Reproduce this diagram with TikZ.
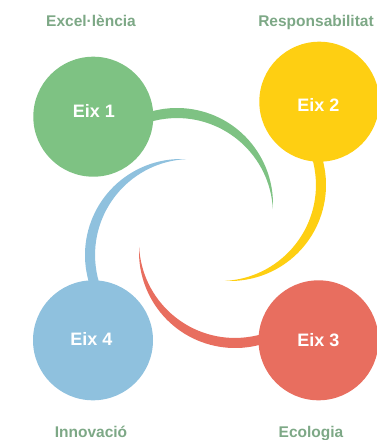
\documentclass[tikz,border=0pt]{standalone}
\usepackage{fontspec}
\setmainfont{Liberation Sans}
\usetikzlibrary{positioning}
\definecolor{eixgreen}{HTML}{7EC283}
\definecolor{eixyellow}{HTML}{FECF12}
\definecolor{eixred}{HTML}{E86E5F}
\definecolor{eixblue}{HTML}{8FC1DE}
\definecolor{labelgreen}{HTML}{7DA886}
\tikzset{
  eix/.style={circle, inner sep=0pt, minimum size=120pt},
  eixtext/.style={text=white, inner sep=0pt, anchor=base, font=\bfseries\fontsize{18}{20}\selectfont},
  eixlabel/.style={text=labelgreen, inner sep=0pt, anchor=base, font=\bfseries\fontsize{15.5}{18}\selectfont}
}

\begin{document}
\begin{tikzpicture}[x=1pt, y=-1pt]
        \useasboundingbox (0, 0) rectangle (376, 440);

        % crescents first, the circles cover their thick ends
        \fill[eixgreen] (177, 204) ++(-120:96) arc[start angle=-120, end angle=3, radius=96] arc[start angle=-3, end angle=-120, radius=96] -- cycle;
        \fill[eixyellow] (230, 185) ++(-30:96) arc[start angle=-30, end angle=93, radius=96] arc[start angle=87, end angle=-30, radius=96] -- cycle;
        \fill[eixred] (235, 252) ++(60:96) arc[start angle=60, end angle=183, radius=96] arc[start angle=177, end angle=60, radius=96] -- cycle;
        \fill[eixblue] (181, 255) ++(150:96) arc[start angle=150, end angle=273, radius=96] arc[start angle=267, end angle=150, radius=96] -- cycle;

        \node[eix, fill=eixgreen] (eix1) at (93.3, 116.7) {};
        \node[eix, fill=eixyellow] (eix2) at (319.3, 101.7) {};
        \node[eix, fill=eixred] (eix3) at (318.5, 340.3) {};
        \node[eix, fill=eixblue] (eix4) at (93, 340.3) {};

        \node[eixtext] (t1) at (93.8, 117.7) {Eix 1};
        \node[eixtext] (t2) at (318.3, 111) {Eix 2};
        \node[eixtext] (t3) at (318.3, 346.7) {Eix 3};
        \node[eixtext] (t4) at (91.3, 345) {Eix 4};

        \node[eixlabel] (excel) at (91, 26.7) {Excel·lència};
        \node[eixlabel] (resp) at (316, 26.7) {Responsabilitat};
        \node[eixlabel] (innov) at (91, 437) {Innovació};
        \node[eixlabel] (ecol) at (311, 437) {Ecologia};

      \end{tikzpicture}
\end{document}
